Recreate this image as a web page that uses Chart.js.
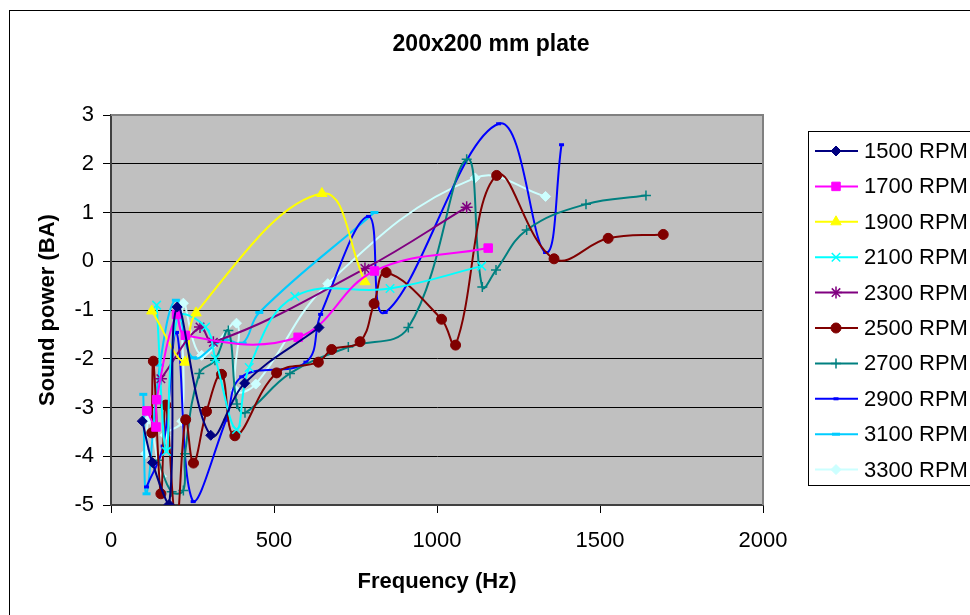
<!DOCTYPE html>
<html lang="en">
<head>
<meta charset="UTF-8">
<title>200x200 mm plate</title>
<script src="https://cdn.jsdelivr.net/npm/chart.js"></script>
<style>
    html, body { margin: 0; padding: 0; background: #fff; }
    #wrap { position: relative; width: 970px; height: 615px; overflow: hidden; }
</style>
</head>
<body>
<div id="wrap"><canvas id="plateChart" width="970" height="615"></canvas></div>
<script>
// values: frequency (Hz) / sound power (BA) per RPM
const seriesNames = ['1500 RPM', '1700 RPM', '1900 RPM', '2100 RPM', '2300 RPM',
                     '2500 RPM', '2700 RPM', '2900 RPM', '3100 RPM', '3300 RPM'];

const freq1500 = [96, 127, 178, 203, 306, 410, 638];
const pow1500  = [-3.28, -4.13, -4.99, -0.94, -3.57, -2.50, -1.36];

const freq1700 = [110, 138, 140, 201, 228, 574, 808, 1157];
const pow1700  = [-3.07, -3.40, -2.84, -1.09, -1.52, -1.56, -0.20, 0.27];

const freq1900 = [125, 227, 261, 647, 779];
const pow1900  = [-1.02, -2.07, -1.06, 1.39, -0.42];

const freq2100 = [140, 170, 205, 290, 320, 385, 424, 564, 856, 1137];
const pow2100  = [-0.90, -3.90, -1.15, -1.35, -2.00, -3.45, -2.18, -0.72, -0.56, -0.10];

const freq2300 = [153, 273, 314, 779, 1091];
const pow2300  = [-2.41, -1.35, -1.66, -0.15, 1.11];

const freq2500 = [125, 130, 153, 168, 200, 229, 253, 293, 339, 380, 508, 636, 677, 764, 807, 844, 1014, 1057, 1183, 1359, 1525, 1694];
const pow2500  = [-3.52, -2.05, -4.77, -2.95, -5.40, -3.25, -4.14, -3.08, -2.32, -3.58, -2.29, -2.07, -1.81, -1.65, -0.87, -0.23, -1.19, -1.72, 1.76, 0.05, 0.47, 0.55];

const freq2700 = [145, 186, 222, 227, 271, 319, 360, 386, 411, 549, 728, 912, 1091, 1139, 1181, 1275, 1457, 1641];
const pow2700  = [-4.08, -4.73, -4.70, -3.95, -2.30, -2.03, -1.42, -2.93, -3.11, -2.30, -1.76, -1.36, 2.09, -0.53, -0.18, 0.64, 1.17, 1.35];

const freq2900 = [109, 160, 201, 252, 353, 401, 598, 643, 790, 841, 1189, 1333, 1382];
const pow2900  = [-4.63, -3.79, -1.46, -4.93, -3.26, -2.37, -2.07, -1.09, 0.92, -1.05, 2.82, 0.18, 2.39];

const freq3100 = [99, 109, 150, 199, 251, 347, 404, 455, 808];
const pow3100  = [-2.73, -4.77, -2.13, -0.80, -1.98, -1.61, -1.68, -1.05, 1.00];

const freq3300 = [106, 117, 155, 166, 217, 222, 278, 385, 383, 444, 665, 1117, 1333];
const pow3300  = [-3.95, -3.24, -4.41, -3.57, -3.28, -0.86, -1.93, -1.27, -2.65, -2.52, -0.46, 1.71, 1.33];

const xTicks = [0, 500, 1000, 1500, 2000];
const yTicks = [-5, -4, -3, -2, -1, 0, 1, 2, 3];

const FONT = '"Liberation Sans", Arial, sans-serif';
Chart.defaults.font.family = FONT;
Chart.defaults.color = '#000';

function pts(xs, ys) {
    return xs.map((x, i) => ({ x: x, y: ys[i] }));
}

// colour, marker, marker size, marker border
const looks = [
    ['#000080', 'rectRot', 5, 1],
    ['#FF00FF', 'rect', 6, 1],
    ['#FFFF00', 'triangle', 6, 1],
    ['#00FFFF', 'crossRot', 6, 1.5],
    ['#800080', 'star', 6, 1.5],
    ['#800000', 'circle', 5, 1],
    ['#008080', 'cross', 5, 1.5],
    ['#0000FF', 'line', 2.5, 3],
    ['#00CCFF', 'line', 4, 3],
    ['#CCFFFF', 'rectRot', 5, 1]
];

const allFreq = [freq1500, freq1700, freq1900, freq2100, freq2300, freq2500, freq2700, freq2900, freq3100, freq3300];
const allPow  = [pow1500, pow1700, pow1900, pow2100, pow2300, pow2500, pow2700, pow2900, pow3100, pow3300];

const datasets = seriesNames.map((name, i) => ({
    label: name,
    data: pts(allFreq[i], allPow[i]),
    showLine: true,
    tension: 0.4,
    borderColor: looks[i][0],
    borderWidth: 2,
    pointStyle: looks[i][1],
    pointRadius: looks[i][2],
    pointBorderWidth: looks[i][3],
    pointBackgroundColor: looks[i][0],
    pointBorderColor: looks[i][0],
    pointHoverRadius: looks[i][2]
}));

// grey plot area + frame, title, legend on the right
const decor = {
    id: 'decor',
    beforeDraw(chart) {
        const { ctx, chartArea: a } = chart;
        ctx.save();
        ctx.fillStyle = '#C0C0C0';
        ctx.fillRect(a.left, a.top, a.right - a.left, a.bottom - a.top);
        ctx.restore();
    },
    beforeDatasetsDraw(chart) {
        const { ctx, chartArea: a } = chart;
        ctx.save();
        ctx.strokeStyle = '#808080';
        ctx.lineWidth = 2;
        ctx.beginPath();
        ctx.moveTo(a.left, a.top);
        ctx.lineTo(a.right, a.top);
        ctx.lineTo(a.right, a.bottom);
        ctx.stroke();
        ctx.restore();
    },
    afterDraw(chart) {
        const ctx = chart.ctx;
        ctx.save();
        // outer frame
        ctx.strokeStyle = '#000';
        ctx.lineWidth = 1;
        ctx.strokeRect(9.5, 10.5, 1000, 1000);
        // title
        ctx.fillStyle = '#000';
        ctx.font = 'bold 23px ' + FONT;
        ctx.textAlign = 'center';
        ctx.textBaseline = 'middle';
        ctx.fillText('200x200 mm plate', 491, 45);
        // legend
        ctx.fillStyle = '#fff';
        ctx.fillRect(808, 131, 200, 355);
        ctx.strokeRect(808.5, 131.5, 200, 354);
        ctx.font = '22px ' + FONT;
        ctx.textAlign = 'left';
        chart.data.datasets.forEach((ds, i) => {
            const y = 151 + i * 35.4;
            ctx.strokeStyle = ds.borderColor;
            ctx.lineWidth = 2;
            ctx.beginPath();
            ctx.moveTo(815, y);
            ctx.lineTo(858, y);
            ctx.stroke();
            ctx.fillStyle = ds.pointBackgroundColor;
            ctx.strokeStyle = ds.pointBorderColor;
            ctx.lineWidth = ds.pointBorderWidth;
            Chart.helpers.drawPoint(ctx, {
                pointStyle: ds.pointStyle,
                radius: ds.pointRadius,
                rotation: 0,
                borderWidth: ds.pointBorderWidth
            }, 836, y);
            ctx.fillStyle = '#000';
            ctx.fillText(ds.label, 864, y + 1);
        });
        ctx.restore();
    }
};

new Chart(document.getElementById('plateChart'), {
    type: 'scatter',
    data: { datasets: datasets },
    plugins: [decor],
    options: {
        responsive: false,
        animation: false,
        devicePixelRatio: 1,
        layout: { padding: { top: 115, right: 207, left: 0, bottom: 0 } },
        plugins: {
            legend: { display: false },
            title: { display: false },
            tooltip: { enabled: false }
        },
        scales: {
            x: {
                type: 'linear',
                min: xTicks[0],
                max: xTicks[xTicks.length - 1],
                afterBuildTicks(s) { s.ticks = xTicks.map(v => ({ value: v })); },
                afterFit(s) { s.height = 110; },
                ticks: {
                    font: { size: 22 }, padding: 15, maxRotation: 0, color: '#000',
                    callback: v => String(v)
                },
                grid: { drawOnChartArea: false, drawTicks: true, tickLength: 8, color: '#000' },
                border: { color: '#404040', width: 2 },
                title: {
                    display: true,
                    text: 'Frequency (Hz)',
                    font: { size: 22, weight: 'bold' },
                    color: '#000',
                    padding: { top: 0, bottom: 20 }
                }
            },
            y: {
                type: 'linear',
                min: yTicks[0],
                max: yTicks[yTicks.length - 1],
                afterBuildTicks(s) { s.ticks = yTicks.map(v => ({ value: v })); },
                afterFit(s) { s.width = 111; },
                ticks: { font: { size: 22 }, padding: 9, color: '#000', callback: v => String(v) },
                grid: { color: '#000', lineWidth: 1, tickLength: 8 },
                border: { color: '#404040', width: 2 },
                title: {
                    display: true,
                    text: 'Sound power (BA)',
                    font: { size: 22, weight: 'bold' },
                    color: '#000',
                    padding: { top: 35, bottom: 0 }
                }
            }
        }
    }
});
</script>
</body>
</html>
